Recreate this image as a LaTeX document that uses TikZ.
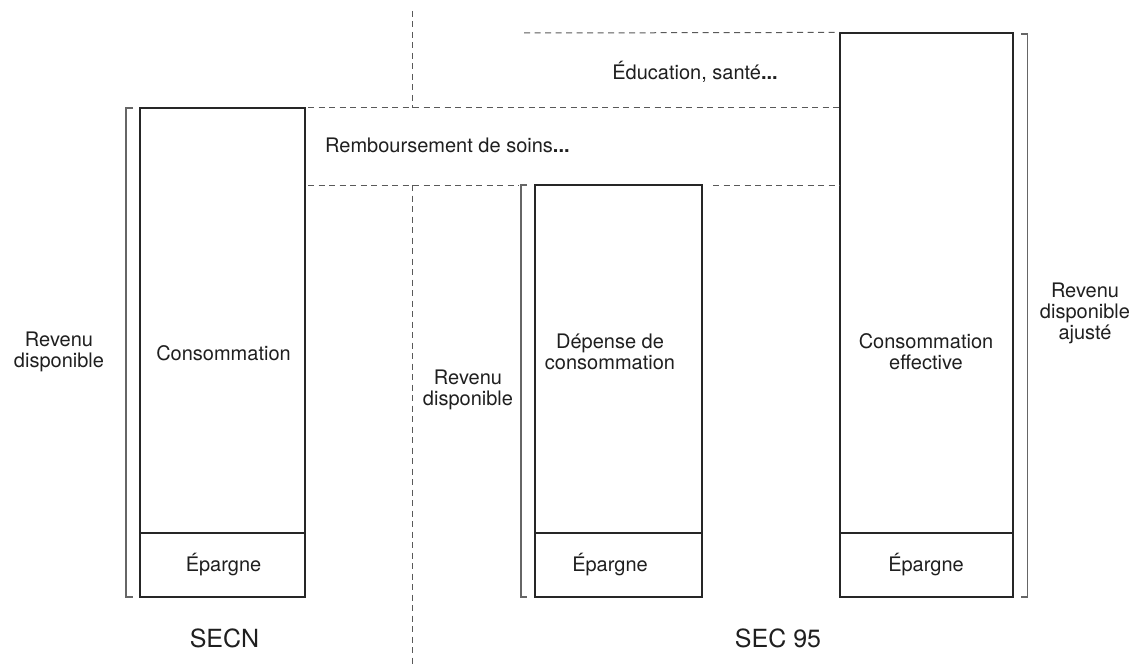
\documentclass[tikz,border=0pt]{standalone}
\usepackage{fontspec}
\setmainfont{TeX Gyre Heros}
\begin{document}
\begin{tikzpicture}[x=1pt,y=-1pt,
  boxline/.style={draw=black!85,line width=1.2pt},
  brk/.style={draw=black!60,line width=1.1pt},
  dline/.style={draw=black!65,line width=1pt,dash pattern=on 6pt off 4.5pt},
  lbl/.style={inner sep=0pt,align=center,text=black!88,font=\fontsize{20}{21}\selectfont},
  big/.style={inner sep=0pt,text=black!88,font=\fontsize{25}{27}\selectfont}]
\useasboundingbox (0,0) rectangle (1147,666);
% boxes
\node[boxline,minimum width=165pt,minimum height=489pt,inner sep=0pt] (b1) at (222.5,352.5) {};
\node[boxline,minimum width=167pt,minimum height=412pt,inner sep=0pt] (b2) at (618.5,391) {};
\node[boxline,minimum width=173pt,minimum height=564pt,inner sep=0pt] (b3) at (926.5,315) {};
\coordinate (d1l) at (140,533); \coordinate (d1r) at (305,533);
\coordinate (d2l) at (535,533); \coordinate (d2r) at (702,533);
\coordinate (d3l) at (840,533); \coordinate (d3r) at (1013,533);
\draw[boxline] (d1l) -- (d1r);
\draw[boxline] (d2l) -- (d2r);
\draw[boxline] (d3l) -- (d3r);
% brackets
\draw[brk] (133,108) -- (126,108) -- (126,597) -- (133,597);
\draw[brk] (527,185) -- (521,185) -- (521,597) -- (527,597);
\draw[brk] (1021,34) -- (1027.5,34) -- (1027.5,597) -- (1021,597);
% dashed lines
\coordinate (t1) at (524,33);
\coordinate (m1) at (308,108);
\coordinate (l1) at (308,185);
\coordinate (l2) at (519,185);
\coordinate (r2) at (713,185);
\coordinate (vt) at (412,11);
\coordinate (vc) at (412,108);
\coordinate (vb) at (412,185);
\coordinate (vz) at (412,666);
\draw[dline] (t1) -- (b3.north west);
\draw[dline] (m1) -- (b3.west |- m1);
\draw[dline] (l1) -- (l2);
\draw[dline] (r2) -- (b3.west |- r2);
\draw[dline] (vt) -- (vc);
\draw[dline] (vb) -- (vz);
% labels
\node[lbl] (rd1) at (59,352) {Revenu\\disponible};
\node[lbl] (c1) at (223.5,353) {Consommation};
\node[lbl] (e1) at (223.5,565) {Épargne};
\node[big] (secn) at (224.5,638) {SECN};
\node[lbl,anchor=west] (remb) at (325,145) {Remboursement de soins\textbf{...}};
\node[lbl] (edu) at (695,72) {Éducation, santé\textbf{...}};
\node[lbl] (rd2) at (468,390) {Revenu\\disponible};
\node[lbl] (dep) at (610,352) {Dépense de\\consommation};
\node[lbl] (e2) at (610,565) {Épargne};
\node[lbl] (ce) at (926,352) {Consommation\\effective};
\node[lbl] (e3) at (926,565) {Épargne};
\node[lbl] (rda) at (1085,313) {Revenu\\disponible\\ajusté};
\node[big] (sec95) at (778,638) {SEC 95};
\end{tikzpicture}
\end{document}
